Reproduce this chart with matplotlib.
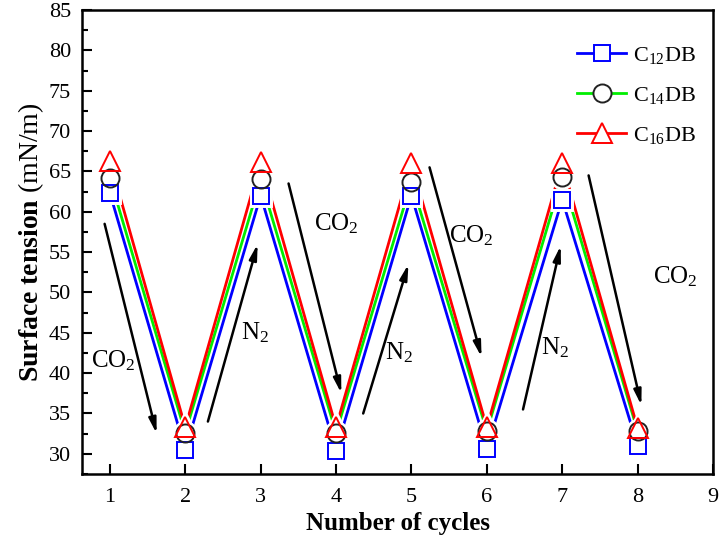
import matplotlib.pyplot as plt
from matplotlib.lines import Line2D
from matplotlib.ticker import MultipleLocator

# data
cycles = [1, 2, 3, 4, 5, 6, 7, 8]
c12 = [62.3, 30.5, 62.0, 30.4, 62.0, 30.6, 61.5, 31.0]
c14 = [64.2, 32.6, 64.0, 32.6, 63.7, 32.8, 64.3, 32.8]
c16 = [66.3, 33.3, 66.2, 33.3, 66.0, 33.3, 66.0, 33.2]
labels = ['C$_{12}$DB', 'C$_{14}$DB', 'C$_{16}$DB']

# gas switching arrows: (tail, head, label, label position)
arrows = [
    ((0.93, 58.5), (1.62, 32.5), 'CO$_2$', (1.05, 41.5)),
    ((2.30, 34.0), (2.96, 56.0), 'N$_2$', (2.93, 45.0)),
    ((3.37, 63.5), (4.07, 37.5), 'CO$_2$', (4.0, 58.5)),
    ((4.36, 35.0), (4.96, 53.5), 'N$_2$', (4.83, 42.5)),
    ((5.24, 65.5), (5.93, 42.0), 'CO$_2$', (5.80, 57.0)),
    ((6.48, 35.5), (6.98, 55.8), 'N$_2$', (6.90, 43.2)),
    ((7.35, 64.5), (8.05, 36.0), 'CO$_2$', (8.50, 52.0)),
]

plt.rcParams['font.family'] = ['Liberation Serif', 'DejaVu Serif']
plt.rcParams['mathtext.fontset'] = 'custom'
plt.rcParams['mathtext.rm'] = 'Liberation Serif'
plt.rcParams['mathtext.it'] = 'Liberation Serif:italic'
plt.rcParams['mathtext.bf'] = 'Liberation Serif:bold'

fig = plt.figure(figsize=(7.19, 5.42), dpi=100)
ax = fig.add_axes([82/719, 1-474/542, (713-82)/719, (474-10)/542])

series = [
    (c12, '#0000ff', '#0000ff', 's', 12),
    (c14, '#00ee00', '#222222', 'o', 13),
    (c16, '#ff0000', '#ff0000', '^', 15),
]

# lines first, then white filled symbols on top (Origin style gaps)
for y, lc, mc, m, ms in series:
    ax.plot(cycles, y, color=lc, lw=2, zorder=2)
for y, lc, mc, m, ms in series:
    ax.plot(cycles, y, ls='none', marker=m, ms=ms, mfc='white', mec='white', mew=5, zorder=3)
    ax.plot(cycles, y, ls='none', marker=m, ms=ms, mfc='none', mec=mc, mew=1.4, zorder=4)

for tail, head, txt, pos in arrows:
    ax.annotate('', xy=head, xytext=tail,
                arrowprops=dict(arrowstyle='-|>,head_width=0.22,head_length=0.9',
                                color='black', lw=1.8, shrinkA=0, shrinkB=0))
    ax.text(pos[0], pos[1], txt, fontsize=18, ha='center', va='center')

ax.set_xlim(0.63, 9)
ax.set_ylim(27.5, 85)
ax.xaxis.set_major_locator(MultipleLocator(1))
ax.yaxis.set_major_locator(MultipleLocator(5))
ax.yaxis.set_minor_locator(MultipleLocator(2.5))
ax.tick_params(direction='in', which='major', length=7, width=1.5, labelsize=16, pad=8)
ax.tick_params(axis='x', pad=10)
ax.tick_params(direction='in', which='minor', length=4, width=1.5)
for s in ax.spines.values():
    s.set_linewidth(1.8)

ax.set_xlabel('Number of cycles', fontsize=18, fontweight='bold', labelpad=4)
ax.set_ylabel(r'$\mathbf{Surface\ tension}$ (mN/m)', fontsize=20, labelpad=2)

handles = [Line2D([], [], color=lc, lw=2, marker=m, ms=ms, mfc='white', mec=mc, mew=1.4)
           for y, lc, mc, m, ms in series]
ax.legend(handles, labels, loc='upper left', bbox_to_anchor=(0.785, 0.925), frameon=False,
          fontsize=16, handlelength=2.2, handletextpad=0.3, labelspacing=0.85,
          borderpad=0, borderaxespad=0)

fig.savefig('out.png', dpi=100)
